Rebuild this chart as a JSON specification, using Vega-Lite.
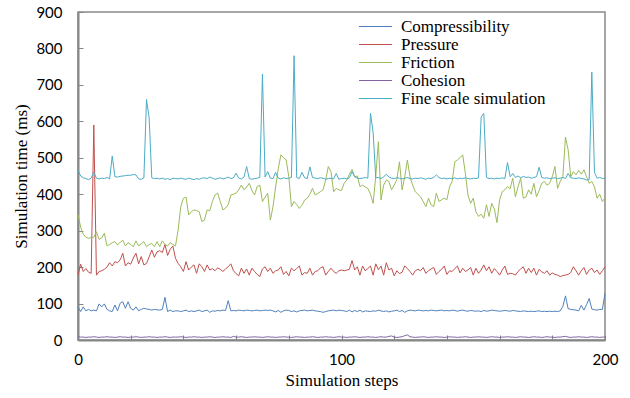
{
"$schema":"https://vega.github.io/schema/vega-lite/v6.json",
"width":527,"height":328,
"autosize":"none",
"padding":{"left":78,"top":12,"right":25,"bottom":58},
"background":"white",
"config":{"view":{"stroke":"#898989","strokeWidth":1.5}},
"data":{"values":[
{"x":0,"C":90,"P":178,"F":345,"H":9,"S":466},
{"x":1,"C":78,"P":208,"F":310,"H":8,"S":450},
{"x":2,"C":91,"P":188,"F":290,"H":8,"S":445},
{"x":3,"C":80,"P":196,"F":282,"H":7,"S":443},
{"x":4,"C":84,"P":186,"F":279,"H":8,"S":440},
{"x":5,"C":80,"P":183,"F":281,"H":8,"S":444},
{"x":6,"C":82,"P":590,"F":282,"H":9,"S":460},
{"x":7,"C":80,"P":178,"F":297,"H":8,"S":444},
{"x":8,"C":99,"P":188,"F":276,"H":7,"S":442},
{"x":9,"C":91,"P":190,"F":280,"H":8,"S":444},
{"x":10,"C":99,"P":194,"F":293,"H":8,"S":443},
{"x":11,"C":84,"P":200,"F":258,"H":9,"S":446},
{"x":12,"C":80,"P":212,"F":262,"H":8,"S":442},
{"x":13,"C":78,"P":203,"F":267,"H":8,"S":505},
{"x":14,"C":96,"P":215,"F":270,"H":7,"S":448},
{"x":15,"C":80,"P":212,"F":261,"H":8,"S":447},
{"x":16,"C":101,"P":220,"F":268,"H":9,"S":449},
{"x":17,"C":105,"P":238,"F":274,"H":8,"S":450},
{"x":18,"C":87,"P":203,"F":258,"H":8,"S":451},
{"x":19,"C":105,"P":212,"F":267,"H":7,"S":452},
{"x":20,"C":87,"P":208,"F":262,"H":8,"S":452},
{"x":21,"C":82,"P":225,"F":256,"H":8,"S":454},
{"x":22,"C":91,"P":238,"F":272,"H":9,"S":453},
{"x":23,"C":80,"P":209,"F":258,"H":8,"S":442},
{"x":24,"C":84,"P":229,"F":264,"H":7,"S":441},
{"x":25,"C":87,"P":206,"F":270,"H":8,"S":445},
{"x":26,"C":85,"P":210,"F":256,"H":8,"S":660},
{"x":27,"C":84,"P":228,"F":262,"H":9,"S":610},
{"x":28,"C":82,"P":247,"F":265,"H":8,"S":445},
{"x":29,"C":84,"P":227,"F":256,"H":8,"S":443},
{"x":30,"C":83,"P":242,"F":270,"H":7,"S":444},
{"x":31,"C":82,"P":245,"F":256,"H":8,"S":442},
{"x":32,"C":84,"P":240,"F":272,"H":8,"S":444},
{"x":33,"C":117,"P":262,"F":262,"H":9,"S":441},
{"x":34,"C":78,"P":232,"F":258,"H":8,"S":443},
{"x":35,"C":82,"P":249,"F":267,"H":7,"S":440},
{"x":36,"C":78,"P":258,"F":262,"H":8,"S":444},
{"x":37,"C":80,"P":224,"F":258,"H":8,"S":443},
{"x":38,"C":80,"P":210,"F":302,"H":8,"S":442},
{"x":39,"C":78,"P":201,"F":366,"H":9,"S":444},
{"x":40,"C":80,"P":188,"F":389,"H":8,"S":442},
{"x":41,"C":82,"P":215,"F":392,"H":7,"S":441},
{"x":42,"C":78,"P":192,"F":343,"H":8,"S":444},
{"x":43,"C":80,"P":200,"F":352,"H":8,"S":442},
{"x":44,"C":78,"P":206,"F":357,"H":9,"S":440},
{"x":45,"C":80,"P":183,"F":355,"H":8,"S":443},
{"x":46,"C":82,"P":209,"F":352,"H":8,"S":441},
{"x":47,"C":78,"P":201,"F":325,"H":7,"S":444},
{"x":48,"C":80,"P":188,"F":329,"H":8,"S":445},
{"x":49,"C":82,"P":206,"F":357,"H":8,"S":443},
{"x":50,"C":76,"P":192,"F":355,"H":9,"S":447},
{"x":51,"C":80,"P":196,"F":380,"H":8,"S":444},
{"x":52,"C":79,"P":190,"F":398,"H":7,"S":441},
{"x":53,"C":81,"P":198,"F":403,"H":8,"S":443},
{"x":54,"C":80,"P":194,"F":380,"H":8,"S":445},
{"x":55,"C":82,"P":188,"F":357,"H":9,"S":442},
{"x":56,"C":81,"P":195,"F":362,"H":8,"S":444},
{"x":57,"C":108,"P":201,"F":371,"H":8,"S":447},
{"x":58,"C":80,"P":209,"F":398,"H":7,"S":443},
{"x":59,"C":81,"P":190,"F":400,"H":10,"S":445},
{"x":60,"C":80,"P":182,"F":403,"H":8,"S":458},
{"x":61,"C":82,"P":176,"F":412,"H":8,"S":444},
{"x":62,"C":81,"P":197,"F":425,"H":9,"S":442},
{"x":63,"C":80,"P":183,"F":412,"H":8,"S":447},
{"x":64,"C":82,"P":195,"F":420,"H":7,"S":476},
{"x":65,"C":81,"P":178,"F":430,"H":8,"S":443},
{"x":66,"C":80,"P":197,"F":410,"H":8,"S":441},
{"x":67,"C":81,"P":188,"F":398,"H":9,"S":443},
{"x":68,"C":82,"P":180,"F":421,"H":8,"S":444},
{"x":69,"C":80,"P":174,"F":425,"H":8,"S":446},
{"x":70,"C":81,"P":195,"F":380,"H":7,"S":730},
{"x":71,"C":82,"P":201,"F":392,"H":8,"S":447},
{"x":72,"C":81,"P":188,"F":403,"H":9,"S":462},
{"x":73,"C":82,"P":197,"F":329,"H":8,"S":444},
{"x":74,"C":80,"P":183,"F":366,"H":8,"S":443},
{"x":75,"C":77,"P":190,"F":420,"H":7,"S":460},
{"x":76,"C":81,"P":192,"F":470,"H":8,"S":444},
{"x":77,"C":76,"P":201,"F":508,"H":8,"S":442},
{"x":78,"C":80,"P":180,"F":500,"H":9,"S":445},
{"x":79,"C":82,"P":188,"F":494,"H":8,"S":443},
{"x":80,"C":81,"P":176,"F":448,"H":8,"S":444},
{"x":81,"C":78,"P":197,"F":366,"H":7,"S":446},
{"x":82,"C":80,"P":190,"F":380,"H":8,"S":780},
{"x":83,"C":77,"P":196,"F":372,"H":9,"S":446},
{"x":84,"C":80,"P":203,"F":361,"H":8,"S":443},
{"x":85,"C":81,"P":178,"F":370,"H":8,"S":460},
{"x":86,"C":82,"P":185,"F":384,"H":7,"S":445},
{"x":87,"C":80,"P":183,"F":389,"H":8,"S":443},
{"x":88,"C":81,"P":197,"F":400,"H":8,"S":475},
{"x":89,"C":82,"P":178,"F":416,"H":9,"S":446},
{"x":90,"C":80,"P":188,"F":398,"H":8,"S":444},
{"x":91,"C":79,"P":190,"F":402,"H":7,"S":443},
{"x":92,"C":78,"P":198,"F":407,"H":8,"S":445},
{"x":93,"C":76,"P":201,"F":412,"H":8,"S":444},
{"x":94,"C":78,"P":178,"F":440,"H":9,"S":441},
{"x":95,"C":80,"P":188,"F":476,"H":8,"S":443},
{"x":96,"C":81,"P":197,"F":462,"H":8,"S":444},
{"x":97,"C":82,"P":188,"F":407,"H":7,"S":442},
{"x":98,"C":80,"P":183,"F":416,"H":8,"S":457},
{"x":99,"C":82,"P":190,"F":412,"H":9,"S":441},
{"x":100,"C":81,"P":192,"F":410,"H":8,"S":443},
{"x":101,"C":80,"P":190,"F":430,"H":8,"S":444},
{"x":102,"C":78,"P":192,"F":439,"H":7,"S":442},
{"x":103,"C":82,"P":194,"F":455,"H":8,"S":445},
{"x":104,"C":77,"P":218,"F":468,"H":8,"S":462},
{"x":105,"C":81,"P":192,"F":448,"H":9,"S":448},
{"x":106,"C":78,"P":201,"F":450,"H":8,"S":444},
{"x":107,"C":82,"P":178,"F":421,"H":7,"S":443},
{"x":108,"C":77,"P":203,"F":425,"H":8,"S":444},
{"x":109,"C":80,"P":190,"F":420,"H":8,"S":446},
{"x":110,"C":79,"P":196,"F":416,"H":9,"S":444},
{"x":111,"C":78,"P":203,"F":400,"H":8,"S":622},
{"x":112,"C":80,"P":178,"F":375,"H":8,"S":570},
{"x":113,"C":79,"P":209,"F":450,"H":7,"S":445},
{"x":114,"C":82,"P":193,"F":544,"H":8,"S":446},
{"x":115,"C":80,"P":203,"F":384,"H":9,"S":443},
{"x":116,"C":78,"P":178,"F":425,"H":8,"S":448},
{"x":117,"C":80,"P":212,"F":439,"H":8,"S":455},
{"x":118,"C":77,"P":192,"F":435,"H":10,"S":447},
{"x":119,"C":79,"P":197,"F":412,"H":11,"S":444},
{"x":120,"C":80,"P":176,"F":425,"H":8,"S":443},
{"x":121,"C":82,"P":190,"F":440,"H":7,"S":445},
{"x":122,"C":78,"P":182,"F":489,"H":8,"S":444},
{"x":123,"C":81,"P":186,"F":412,"H":9,"S":442},
{"x":124,"C":76,"P":203,"F":448,"H":12,"S":444},
{"x":125,"C":80,"P":196,"F":494,"H":14,"S":446},
{"x":126,"C":82,"P":188,"F":448,"H":9,"S":443},
{"x":127,"C":81,"P":178,"F":425,"H":8,"S":442},
{"x":128,"C":80,"P":190,"F":407,"H":7,"S":444},
{"x":129,"C":82,"P":194,"F":400,"H":8,"S":443},
{"x":130,"C":81,"P":190,"F":393,"H":8,"S":445},
{"x":131,"C":80,"P":199,"F":380,"H":9,"S":443},
{"x":132,"C":81,"P":183,"F":366,"H":8,"S":441},
{"x":133,"C":80,"P":190,"F":389,"H":7,"S":444},
{"x":134,"C":82,"P":195,"F":371,"H":8,"S":443},
{"x":135,"C":81,"P":199,"F":366,"H":8,"S":446},
{"x":136,"C":80,"P":180,"F":403,"H":9,"S":453},
{"x":137,"C":81,"P":188,"F":380,"H":8,"S":446},
{"x":138,"C":82,"P":194,"F":385,"H":8,"S":443},
{"x":139,"C":80,"P":203,"F":389,"H":7,"S":444},
{"x":140,"C":81,"P":180,"F":385,"H":8,"S":442},
{"x":141,"C":80,"P":190,"F":420,"H":9,"S":444},
{"x":142,"C":82,"P":188,"F":435,"H":8,"S":443},
{"x":143,"C":81,"P":196,"F":489,"H":8,"S":445},
{"x":144,"C":79,"P":203,"F":494,"H":7,"S":442},
{"x":145,"C":81,"P":184,"F":500,"H":8,"S":444},
{"x":146,"C":82,"P":197,"F":508,"H":8,"S":443},
{"x":147,"C":80,"P":188,"F":457,"H":9,"S":445},
{"x":148,"C":79,"P":192,"F":398,"H":8,"S":443},
{"x":149,"C":81,"P":199,"F":375,"H":7,"S":442},
{"x":150,"C":80,"P":178,"F":389,"H":8,"S":444},
{"x":151,"C":79,"P":197,"F":352,"H":8,"S":443},
{"x":152,"C":80,"P":183,"F":339,"H":9,"S":445},
{"x":153,"C":78,"P":192,"F":345,"H":8,"S":612},
{"x":154,"C":81,"P":206,"F":334,"H":8,"S":622},
{"x":155,"C":79,"P":190,"F":371,"H":7,"S":446},
{"x":156,"C":80,"P":201,"F":339,"H":8,"S":443},
{"x":157,"C":82,"P":183,"F":375,"H":9,"S":444},
{"x":158,"C":81,"P":196,"F":360,"H":8,"S":442},
{"x":159,"C":80,"P":188,"F":322,"H":8,"S":444},
{"x":160,"C":79,"P":178,"F":384,"H":7,"S":443},
{"x":161,"C":80,"P":192,"F":407,"H":8,"S":445},
{"x":162,"C":81,"P":203,"F":412,"H":8,"S":443},
{"x":163,"C":80,"P":180,"F":421,"H":9,"S":487},
{"x":164,"C":79,"P":183,"F":415,"H":8,"S":448},
{"x":165,"C":81,"P":182,"F":444,"H":8,"S":457},
{"x":166,"C":80,"P":178,"F":393,"H":7,"S":446},
{"x":167,"C":79,"P":188,"F":420,"H":8,"S":450},
{"x":168,"C":78,"P":195,"F":444,"H":9,"S":445},
{"x":169,"C":80,"P":201,"F":389,"H":8,"S":449},
{"x":170,"C":79,"P":183,"F":392,"H":8,"S":446},
{"x":171,"C":78,"P":197,"F":412,"H":7,"S":447},
{"x":172,"C":79,"P":185,"F":400,"H":8,"S":444},
{"x":173,"C":78,"P":197,"F":430,"H":9,"S":446},
{"x":174,"C":79,"P":178,"F":393,"H":8,"S":448},
{"x":175,"C":80,"P":194,"F":410,"H":8,"S":474},
{"x":176,"C":78,"P":187,"F":430,"H":7,"S":446},
{"x":177,"C":79,"P":183,"F":435,"H":8,"S":444},
{"x":178,"C":78,"P":190,"F":425,"H":9,"S":445},
{"x":179,"C":79,"P":178,"F":430,"H":8,"S":443},
{"x":180,"C":78,"P":184,"F":448,"H":8,"S":444},
{"x":181,"C":79,"P":180,"F":476,"H":7,"S":445},
{"x":182,"C":78,"P":178,"F":416,"H":8,"S":443},
{"x":183,"C":80,"P":174,"F":435,"H":8,"S":444},
{"x":184,"C":92,"P":177,"F":448,"H":9,"S":446},
{"x":185,"C":121,"P":178,"F":557,"H":10,"S":443},
{"x":186,"C":86,"P":180,"F":522,"H":8,"S":457},
{"x":187,"C":84,"P":185,"F":448,"H":7,"S":445},
{"x":188,"C":83,"P":201,"F":462,"H":8,"S":444},
{"x":189,"C":82,"P":190,"F":453,"H":8,"S":443},
{"x":190,"C":80,"P":178,"F":465,"H":9,"S":445},
{"x":191,"C":95,"P":190,"F":455,"H":8,"S":443},
{"x":192,"C":82,"P":199,"F":467,"H":8,"S":442},
{"x":193,"C":97,"P":180,"F":448,"H":7,"S":439},
{"x":194,"C":114,"P":192,"F":430,"H":8,"S":440},
{"x":195,"C":85,"P":197,"F":435,"H":9,"S":735},
{"x":196,"C":83,"P":185,"F":420,"H":8,"S":460},
{"x":197,"C":82,"P":192,"F":389,"H":8,"S":444},
{"x":198,"C":84,"P":180,"F":400,"H":7,"S":446},
{"x":199,"C":84,"P":190,"F":380,"H":8,"S":443},
{"x":200,"C":128,"P":201,"F":390,"H":8,"S":444}
]},
"transform":[{"fold":["C","P","F","H","S"],"as":["series","value"]}],
"mark":{"type":"line","strokeWidth":1},
"encoding":{
"x":{"field":"x","type":"quantitative","scale":{"domain":[0,200],"nice":false,"zero":false},
"axis":{"title":"Simulation steps","values":[0,20,40,60,80,100,120,140,160,180,200],
"labelExpr":"datum.value % 50 === 0 ? datum.label : ''","labelFlush":false,"labelOverlap":false,
"tickSize":-5,"tickColor":"#868686","tickWidth":1,"domainColor":"#868686","domainWidth":2,
"labelFont":"Lato","labelFontSize":15,"labelColor":"black","labelPadding":17,
"titleFont":"Liberation Serif","titleFontSize":17,"titleFontWeight":"normal","titleColor":"black","titlePadding":5,"grid":false}},
"y":{"field":"value","type":"quantitative","scale":{"domain":[0,900],"nice":false},
"axis":{"title":"Simulation time (ms)","values":[0,100,200,300,400,500,600,700,800,900],"labelFlush":false,"labelOverlap":false,
"tickSize":-5,"tickColor":"#868686","tickWidth":1,"domainColor":"#868686","domainWidth":2,
"labelFont":"Lato","labelFontSize":15,"labelColor":"black","labelPadding":21,
"titleFont":"Liberation Serif","titleFontSize":17,"titleFontWeight":"normal","titleColor":"black","titlePadding":5,"grid":false}},
"color":{"field":"series","type":"nominal",
"scale":{"domain":["C","P","F","H","S"],"range":["#4F81BD","#C0504D","#9BBB59","#8064A2","#4BACC6"]},
"legend":{"title":null,"orient":"none","legendX":289,"legendY":6,"symbolType":"M-3.3,0H3.3","symbolSize":100,"symbolStrokeWidth":1,"symbolFillColor":"transparent",
"rowPadding":0,"labelFont":"Liberation Serif","labelFontSize":17,"labelColor":"black","labelOffset":17,
"labelExpr":"datum.label === 'C' ? 'Compressibility' : datum.label === 'P' ? 'Pressure' : datum.label === 'F' ? 'Friction' : datum.label === 'H' ? 'Cohesion' : 'Fine scale simulation'"}}
}
}
